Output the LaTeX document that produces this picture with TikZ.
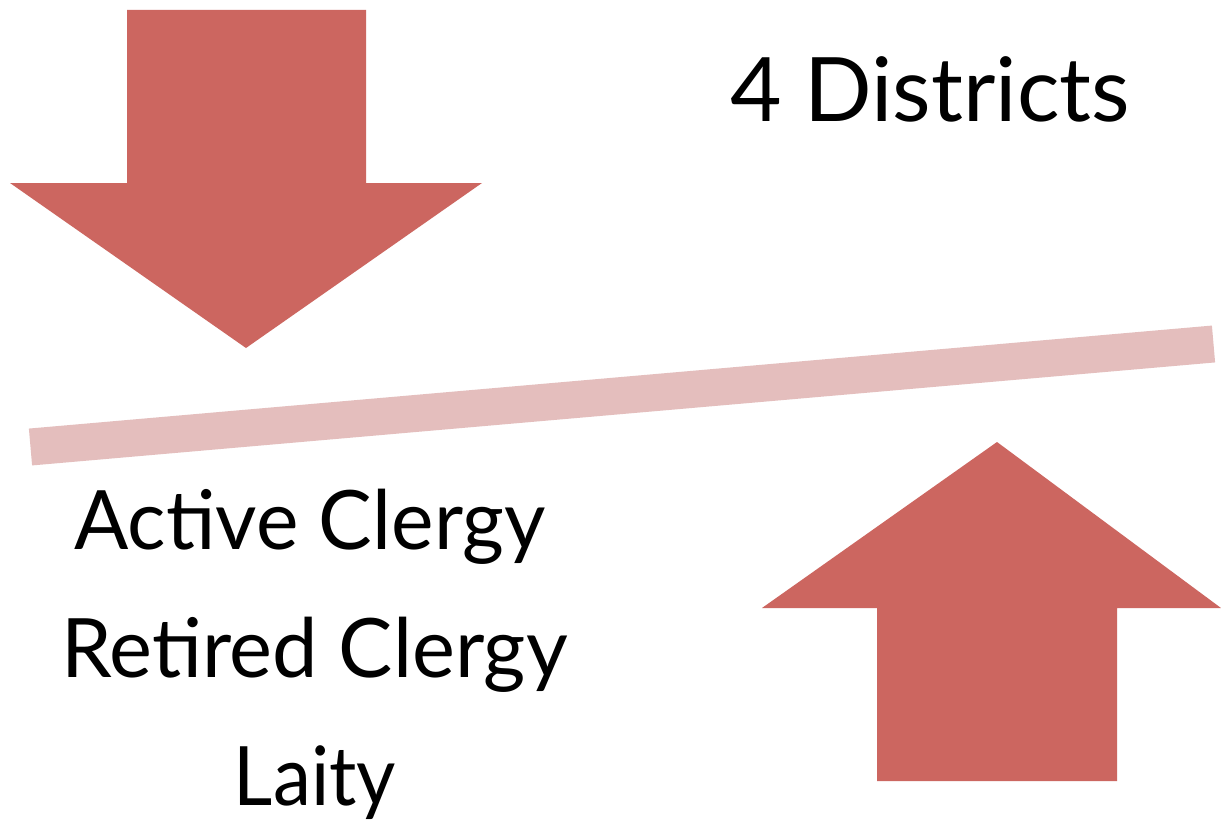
\documentclass[tikz,border=0pt]{standalone}
\usepackage{fontspec}
\setmainfont{Lato}
\definecolor{arrowred}{HTML}{CC6660}
\definecolor{barpink}{HTML}{E4BEBD}
\begin{document}
\begin{tikzpicture}[x=1pt,y=-1pt,
  bigarrow/.style={fill=arrowred,draw=none},
  label/.style={anchor=base,inner sep=0pt,text=black}]
\useasboundingbox (0,0) rectangle (1221,824);
\fill[white] (0,0) rectangle (1221,824);
% down arrow
\path[bigarrow] (127,10) -- (366,10) -- (366,183) -- (482,183) -- (246,348) -- (10,183) -- (127,183) -- cycle;
% up arrow
\path[bigarrow] (877,781) -- (1117,781) -- (1117,608) -- (1221,608) -- (997,442) -- (762,608) -- (877,608) -- cycle;
% bar
\coordinate (bl) at (30.5,447);
\coordinate (br) at (1213.5,344);
\draw[barpink,line width=37pt] (bl) -- (br);
% texts
\node[label,font=\fontsize{89}{89}\selectfont] (d) at (930,122) {\scalebox{1.0}[1]{4 Districts}};
\node[label,font=\fontsize{82}{82}\selectfont] (a) at (310,549) {\scalebox{0.98}[1]{Active Clergy}};
\node[label,font=\fontsize{82}{82}\selectfont] (r) at (314.5,677) {\scalebox{0.99}[1]{Retired Clergy}};
\node[label,font=\fontsize{82}{82}\selectfont] (l) at (315,805) {\scalebox{0.93}[1]{Laity}};
\end{tikzpicture}
\end{document}
